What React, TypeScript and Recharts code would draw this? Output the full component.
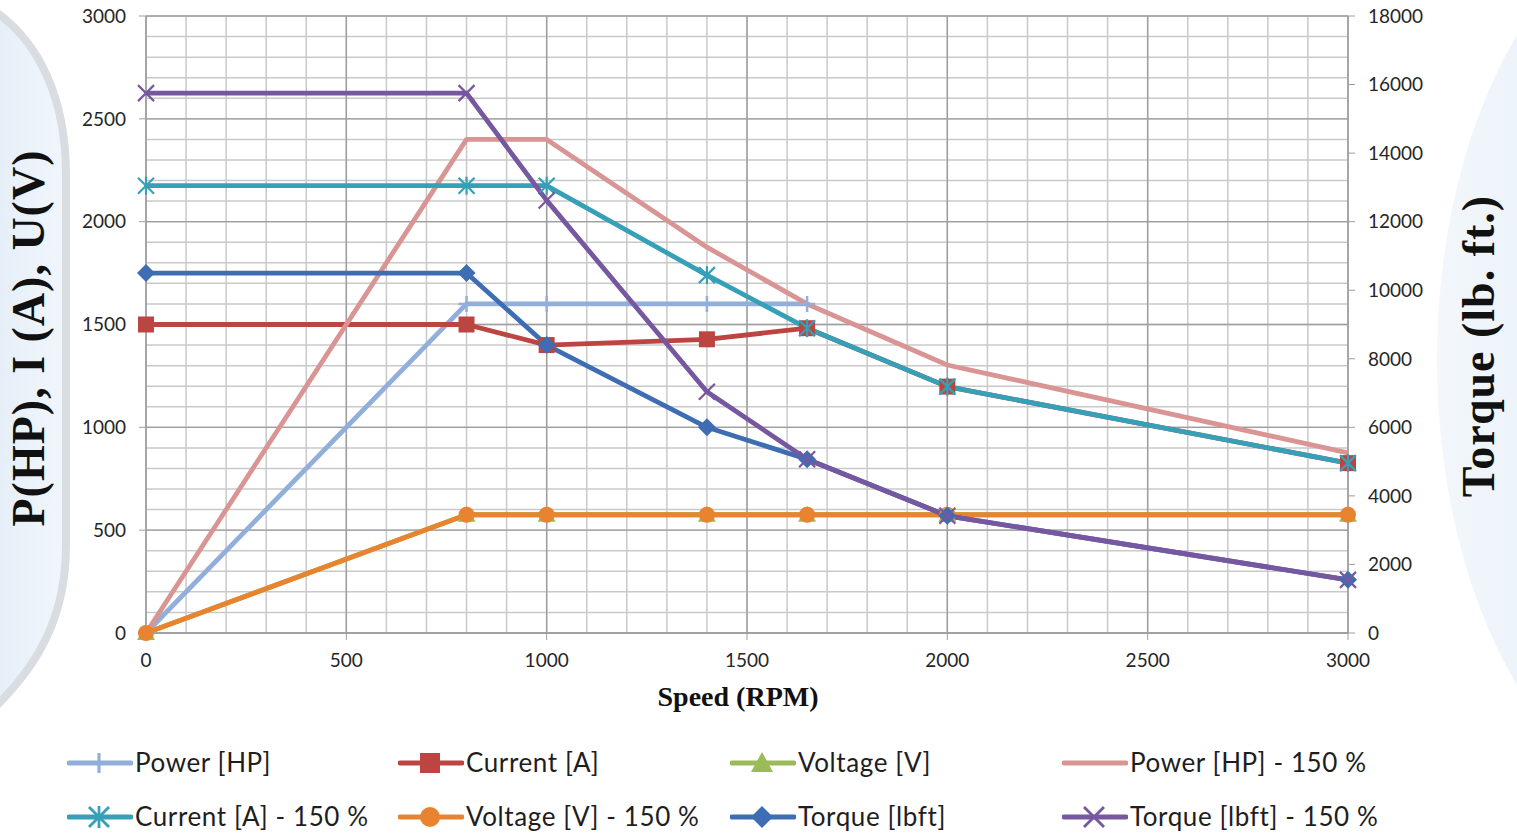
import React from "react";
import { LineChart, Line, XAxis, YAxis, CartesianGrid } from "recharts";

// speed (RPM) of each measured point
const speeds = [0, 800, 1000, 1400, 1650, 2000, 3000];

// left axis series: P(HP), I(A), U(V)
const powerHp = [0, 1600, 1600, 1600, 1600, null, null];
const currentA = [1500, 1500, 1400, 1428, 1482, 1198, 826];
const voltageV = [0, 575, 575, 575, 575, 575, 575];
const power150 = [0, 2400, 2400, 1876, 1600, 1303, 876];
const current150 = [2175, 2175, 2175, 1740, 1482, 1198, 826];
const voltage150 = [0, 575, 575, 575, 575, 575, 575];

// right axis series: torque (lb. ft.)
const torqueLbft = [10500, 10500, 8400, 6000, 5070, 3420, 1550];
const torque150 = [15750, 15750, 12620, 7040, 5070, 3420, 1550];

const xTicks = [0, 500, 1000, 1500, 2000, 2500, 3000];
const leftTicks = [0, 500, 1000, 1500, 2000, 2500, 3000];
const rightTicks = [0, 2000, 4000, 6000, 8000, 10000, 12000, 14000, 16000, 18000];
const minorTicks = Array.from({ length: 31 }, (_, i) => i * 100);

const series = [
  { key: "power", name: "Power [HP]", values: powerHp, axis: "left" },
  { key: "current", name: "Current [A]", values: currentA, axis: "left" },
  { key: "voltage", name: "Voltage [V]", values: voltageV, axis: "left" },
  { key: "power150", name: "Power [HP] - 150 %", values: power150, axis: "left" },
  { key: "current150", name: "Current [A] - 150 %", values: current150, axis: "left" },
  { key: "voltage150", name: "Voltage [V] - 150 %", values: voltage150, axis: "left" },
  { key: "torque", name: "Torque [lbft]", values: torqueLbft, axis: "right" },
  { key: "torque150", name: "Torque [lbft] - 150 %", values: torque150, axis: "right" },
];

const styles: Record<string, { color: string; marker: string }> = {
  power: { color: "#92AEDA", marker: "plus" },
  current: { color: "#BC4542", marker: "square" },
  voltage: { color: "#9BBB59", marker: "triangle" },
  power150: { color: "#D99593", marker: "none" },
  current150: { color: "#35A0B7", marker: "asterisk" },
  voltage150: { color: "#E8842F", marker: "circle" },
  torque: { color: "#3E6DB3", marker: "diamond" },
  torque150: { color: "#7657A0", marker: "x" },
};

const rows = speeds.map((s, i) => {
  const row: Record<string, number | null> = { speed: s };
  series.forEach((sr) => {
    row[sr.key] = sr.values[i];
  });
  return row;
});

function marker(shape: string, cx: number, cy: number, color: string, k = 1) {
  const s = 8 * k;
  switch (shape) {
    case "plus":
      return (
        <g stroke={color} strokeWidth={2.5 * k}>
          <line x1={cx - s} y1={cy} x2={cx + s} y2={cy} />
          <line x1={cx} y1={cy - s} x2={cx} y2={cy + s} />
        </g>
      );
    case "square":
      return <rect x={cx - s} y={cy - s} width={2 * s} height={2 * s} fill={color} />;
    case "triangle":
      return (
        <polygon
          points={`${cx},${cy - s - 1} ${cx + s + 1},${cy + s - 1} ${cx - s - 1},${cy + s - 1}`}
          fill={color}
        />
      );
    case "circle":
      return <circle cx={cx} cy={cy} r={s} fill={color} />;
    case "diamond":
      return (
        <polygon
          points={`${cx},${cy - s - 1} ${cx + s + 1},${cy} ${cx},${cy + s + 1} ${cx - s - 1},${cy}`}
          fill={color}
        />
      );
    case "x":
      return (
        <g stroke={color} strokeWidth={2.2 * k}>
          <line x1={cx - s} y1={cy - s} x2={cx + s} y2={cy + s} />
          <line x1={cx - s} y1={cy + s} x2={cx + s} y2={cy - s} />
        </g>
      );
    case "asterisk":
      return (
        <g stroke={color} strokeWidth={2.2 * k}>
          <line x1={cx - s} y1={cy - s} x2={cx + s} y2={cy + s} />
          <line x1={cx - s} y1={cy + s} x2={cx + s} y2={cy - s} />
          <line x1={cx} y1={cy - s - 1} x2={cx} y2={cy + s + 1} />
        </g>
      );
    default:
      return null;
  }
}

// minor grid every 100 units, placed through the axis scales
const scaleOf = (axis: any) => {
  const sc = axis && axis.scale;
  if (typeof sc === "function") return (v: number) => sc(v);
  if (sc && typeof sc.map === "function") return (v: number) => sc.map(v);
  return null;
};

const minorVertical = ({ xAxis, offset }: any) => {
  const f = scaleOf(xAxis);
  return minorTicks.map((v) => (f ? f(v) : offset.left + (offset.width * v) / 3000));
};

const minorHorizontal = ({ yAxis, offset }: any) => {
  const f = scaleOf(yAxis);
  return minorTicks.map((v) => (f ? f(v) : offset.top + offset.height * (1 - v / 3000)));
};

const legendCols = [67, 398, 730, 1062];
const legendRows = [763, 817];

const Legend8 = () => (
  <>
    {series.map((sr, i) => {
      const st = styles[sr.key];
      const left = legendCols[i % 4];
      const top = legendRows[Math.floor(i / 4)];
      return (
        <div key={sr.key}>
          <svg
            width={66}
            height={30}
            style={{ position: "absolute", left, top: top - 15 }}
          >
            <line x1={2} y1={15} x2={64} y2={15} stroke={st.color} strokeWidth={5} strokeLinecap="round" />
            {marker(st.marker, 32, 15, st.color, 1.25)}
          </svg>
          <div
            style={{
              position: "absolute",
              left: left + 68,
              top: top - 17,
              fontFamily: "Lato, sans-serif",
              fontSize: 26,
              letterSpacing: 0.6,
              lineHeight: "32px",
              color: "#1e1e1e",
              whiteSpace: "nowrap",
            }}
          >
            {sr.name}
          </div>
        </div>
      );
    })}
  </>
);

const tickStyle = { fontFamily: "Lato, sans-serif", fontSize: 19, fill: "#262626" };

export default function App() {
  return (
    <div
      style={{
        position: "relative",
        width: 1517,
        height: 838,
        background: "#fff",
        overflow: "hidden",
      }}
    >
      <style>{`body{margin:0}`}</style>
      <svg width={1517} height={838} style={{ position: "absolute", left: 0, top: 0 }}>
        <defs>
          <linearGradient id="panelL" x1="0" y1="0" x2="1" y2="0">
            <stop offset="0" stopColor="#e4eef8" />
            <stop offset="1" stopColor="#f1f6fb" />
          </linearGradient>
          <linearGradient id="panelR" x1="0" y1="0" x2="1" y2="0">
            <stop offset="0" stopColor="#f3f7fb" />
            <stop offset="0.3" stopColor="#e7f0f8" />
            <stop offset="1" stopColor="#e2edf7" />
          </linearGradient>
        </defs>
        <path
          d="M-10,8 C40,40 66,100 66,175 L66,545 C66,615 40,665 -10,712 Z"
          fill="url(#panelL)"
          stroke="#d9dde2"
          strokeWidth={8}
        />
        <ellipse cx={1697} cy={360} rx={260} ry={450} fill="url(#panelR)" />
      </svg>

      <div style={{ position: "absolute", left: 0, top: 0 }}>
        <LineChart
          width={1517}
          height={838}
          data={rows}
          margin={{ top: 16, right: 99, left: 76, bottom: 165 }}
        >
          <CartesianGrid
            yAxisId="left"
            stroke="#c9c9c9"
            strokeWidth={1.5}
            verticalCoordinatesGenerator={minorVertical}
            horizontalCoordinatesGenerator={minorHorizontal}
          />
          <CartesianGrid yAxisId="left" stroke="#9e9e9e" strokeWidth={1.4} />
          <XAxis
            dataKey="speed"
            type="number"
            domain={[0, 3000]}
            ticks={xTicks}
            height={40}
            tickSize={7}
            tickMargin={14}
            stroke="#9e9e9e"
            tick={tickStyle}
            axisLine={{ stroke: "#9e9e9e", strokeWidth: 1.4 }}
          />
          <YAxis
            yAxisId="left"
            type="number"
            domain={[0, 3000]}
            ticks={leftTicks}
            width={70}
            tickSize={7}
            tickMargin={13}
            stroke="#9e9e9e"
            tick={tickStyle}
          />
          <YAxis
            yAxisId="right"
            orientation="right"
            type="number"
            domain={[0, 18000]}
            ticks={rightTicks}
            width={70}
            tickSize={7}
            tickMargin={13}
            stroke="#9e9e9e"
            tick={tickStyle}
          />
          {series.map((sr) => {
            const st = styles[sr.key];
            return (
              <Line
                key={sr.key}
                yAxisId={sr.axis}
                dataKey={sr.key}
                name={sr.name}
                type="linear"
                stroke={st.color}
                strokeWidth={4.8}
                strokeLinejoin="round"
                isAnimationActive={false}
                activeDot={false}
                dot={
                  st.marker === "none"
                    ? false
                    : (p: any) => (
                        <g key={`${sr.key}-${p.index}`}>
                          {p.cx == null || p.cy == null || p.value == null
                            ? null
                            : marker(st.marker, p.cx, p.cy, st.color)}
                        </g>
                      )
                }
              />
            );
          })}
        </LineChart>
      </div>

      <div
        style={{
          position: "absolute",
          left: 28,
          top: 338,
          transform: "translate(-50%, -50%) rotate(-90deg)",
          fontFamily: "'Liberation Serif', serif",
          fontWeight: "bold",
          fontSize: 46,
          letterSpacing: 1,
          whiteSpace: "nowrap",
          color: "#111",
        }}
      >
        P(HP), I (A), U(V)
      </div>
      <div
        style={{
          position: "absolute",
          left: 1478,
          top: 346,
          transform: "translate(-50%, -50%) rotate(-90deg)",
          fontFamily: "'Liberation Serif', serif",
          fontWeight: "bold",
          fontSize: 46,
          letterSpacing: 1,
          whiteSpace: "nowrap",
          color: "#111",
        }}
      >
        Torque (lb. ft.)
      </div>
      <div
        style={{
          position: "absolute",
          left: 738,
          top: 697,
          transform: "translate(-50%, -50%)",
          fontFamily: "'Liberation Serif', serif",
          fontWeight: "bold",
          fontSize: 28,
          whiteSpace: "nowrap",
          color: "#111",
        }}
      >
        Speed (RPM)
      </div>

      <Legend8 />
    </div>
  );
}
